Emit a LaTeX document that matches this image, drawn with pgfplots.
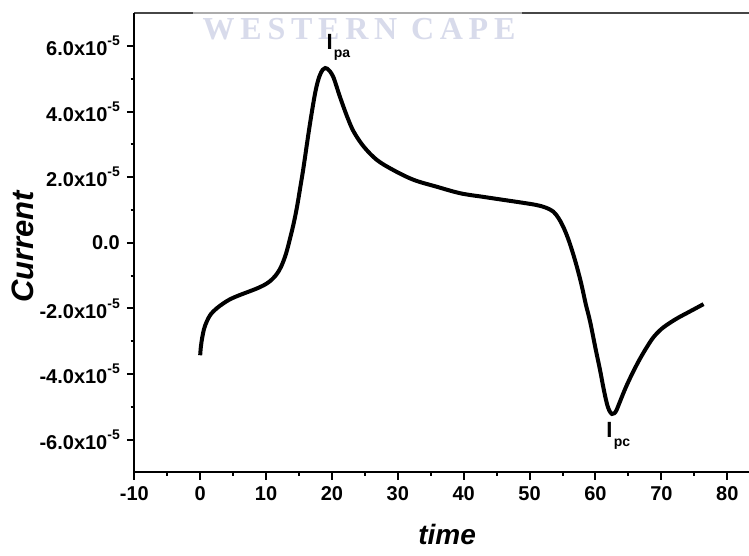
\documentclass[border=0pt]{standalone}
\usepackage{pgfplots}
\pgfplotsset{compat=1.18}
\usepackage{fontspec}
\setmainfont{Liberation Sans}
\newfontfamily\wmfont[LetterSpace=18]{Liberation Serif}
\definecolor{wm}{RGB}{216,219,235}
\definecolor{axgray}{RGB}{70,70,70}
\newcommand{\sci}[2]{#1x10\raisebox{5pt}{\fontsize{7}{8}\selectfont #2}}
\begin{document}
\begin{tikzpicture}
\path[use as bounding box] (-67.15pt,-41.85pt) rectangle (307.35pt,236.15pt);
\begin{axis}[
 width=307.35pt, height=229.5pt, scale only axis,
 xmin=-10, xmax=83.3, ymin=-7e-5, ymax=7e-5,
 axis line style={draw=none},
 xtick={-10,0,10,20,30,40,50,60,70,80},
 xticklabels={-10,0,10,20,30,40,50,60,70,80},
 ytick={-6e-5,-4e-5,-2e-5,0,2e-5,4e-5,6e-5},
 yticklabels={\sci{-6.0}{-5},\sci{-4.0}{-5},\sci{-2.0}{-5},0.0,\sci{2.0}{-5},\sci{4.0}{-5},\sci{6.0}{-5}},
 scaled y ticks=false,
 minor x tick num=1, minor y tick num=1,
 tick align=outside, xtick pos=bottom, ytick pos=left,
 major tick length=3.7pt, minor tick length=1.8pt,
 every tick/.style={black, line width=1pt},
 tick label style={font=\fontsize{10}{12}\selectfont\bfseries},
 xlabel={time}, ylabel={Current},
 every axis x label/.style={at={(axis description cs:0.5,0)}, yshift=-31.3pt, xshift=2.7pt, anchor=center, font=\fontsize{14}{16}\selectfont\bfseries\itshape},
 every axis y label/.style={at={(axis description cs:0,0.5)}, xshift=-55.6pt, yshift=-2pt, rotate=90, anchor=center, font=\fontsize{15.5}{17}\selectfont\bfseries\itshape},
 clip=false,
]
\addplot[black, line width=2pt, smooth, tension=0.55] coordinates {
(0,-3.43e-5) (0.1,-3.18e-5) (0.3,-2.90e-5) (0.6,-2.62e-5) (1.0,-2.40e-5) (1.6,-2.18e-5)
(2.5,-2.00e-5) (3.5,-1.85e-5) (4.55,-1.72e-5) (5.8,-1.61e-5) (7.1,-1.51e-5) (8.4,-1.41e-5)
(9.6,-1.30e-5) (10.6,-1.17e-5) (11.6,-0.96e-5) (12.3,-0.72e-5) (13.0,-0.35e-5) (13.6,0.1e-5)
(14.2,0.6e-5) (14.7,1.1e-5) (15.2,1.7e-5) (15.7,2.32e-5) (16.45,3.35e-5) (17.0,4.05e-5)
(17.45,4.57e-5) (17.85,4.92e-5) (18.2,5.13e-5) (18.6,5.28e-5) (18.97,5.33e-5) (19.3,5.31e-5)
(19.7,5.23e-5) (20.2,5.06e-5) (20.7,4.77e-5) (21.2,4.46e-5) (22.3,3.85e-5) (23.3,3.39e-5)
(24.8,2.94e-5) (26.8,2.53e-5) (29.3,2.22e-5) (32.4,1.92e-5) (35.9,1.71e-5) (39.5,1.51e-5)
(43.0,1.40e-5) (46.0,1.31e-5) (49.0,1.22e-5) (51.1,1.15e-5) (52.5,1.07e-5) (53.6,0.95e-5)
(54.4,0.75e-5) (55.1,0.49e-5) (55.8,0.15e-5) (56.5,-0.27e-5) (57.2,-0.75e-5) (57.9,-1.30e-5)
(58.5,-1.85e-5) (59.2,-2.42e-5) (60.0,-3.22e-5) (60.7,-3.89e-5) (61.2,-4.42e-5) (61.7,-4.88e-5)
(62.1,-5.12e-5) (62.5,-5.22e-5) (62.85,-5.20e-5) (63.2,-5.10e-5) (64.0,-4.70e-5) (64.8,-4.32e-5)
(65.8,-3.90e-5) (66.8,-3.52e-5) (67.8,-3.18e-5) (68.8,-2.88e-5) (70.0,-2.63e-5) (71.3,-2.44e-5)
(72.6,-2.28e-5) (73.9,-2.14e-5) (75.2,-2.00e-5) (76.4,-1.87e-5)
};
\draw[axgray, line width=1pt] (rel axis cs:0,1) -- (rel axis cs:1,1);
\fill[white, opacity=0.55] (rel axis cs:0.0955,0.9375) rectangle (rel axis cs:0.631,1.02);
\node[wm, inner sep=0pt, font=\wmfont\fontsize{16}{18}\selectfont\bfseries] at (rel axis cs:0.3656,0.966) {WESTERN CAPE};
\draw[black, line width=1pt] (rel axis cs:0,1) -- (rel axis cs:0,0) -- (rel axis cs:1,0);
\node[anchor=base west, inner sep=0pt, font=\fontsize{11}{12}\selectfont\bfseries] at (axis cs:19.12,5.91e-5) {I\hspace{0.6pt}\raisebox{-4.2pt}{\fontsize{7}{8}\selectfont pa}};
\node[anchor=base west, inner sep=0pt, font=\fontsize{11}{12}\selectfont\bfseries] at (axis cs:61.6,-5.94e-5) {I\hspace{0.6pt}\raisebox{-4.6pt}{\fontsize{7}{8}\selectfont pc}};
\end{axis}
\end{tikzpicture}
\end{document}
